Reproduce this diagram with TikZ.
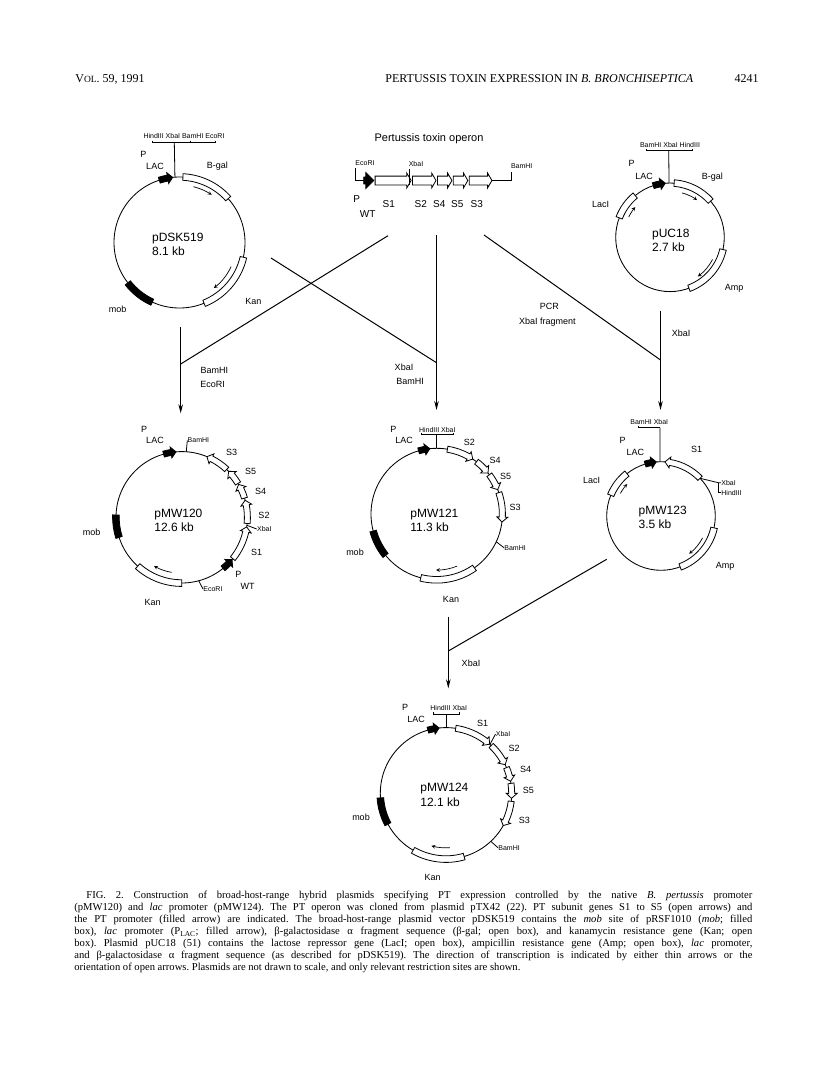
\documentclass[tikz,border=0pt]{standalone}
\usepackage{fontspec}
\setmainfont{Liberation Serif}
\newfontfamily\labelfont{Liberation Sans}
\usetikzlibrary{calc,chains,arrows,arrows.meta,shapes.arrows}

% box and arrows laid on the ring of the current plasmid (radius \plasr)
\newcommand\genebox[3][]{\draw[gene,#1] (#2:\plasr-3.2) arc[start angle=#2,end angle=#3,radius=\plasr-3.2]
  -- (#3:\plasr+3.4) arc[start angle=#3,end angle=#2,radius=\plasr+3.4] -- cycle;}
\newcommand\genearrow[3][]{\pgfmathsetmacro\neck{#3-(5/\plasr*57.3)*sign(#3-#2)}%
  \draw[gene,#1] (#2:\plasr+3) arc[start angle=#2,end angle=\neck,radius=\plasr+3]
  -- (\neck:\plasr+5.5) -- (#3:\plasr) -- (\neck:\plasr-5.5) -- (\neck:\plasr-3)
  arc[start angle=\neck,end angle=#2,radius=\plasr-3] -- cycle;}
\newcommand\flowarrow[3]{\draw[flow] (#1:#3) arc[start angle=#1,end angle=#2,radius=#3];}

\begin{document}
\begin{tikzpicture}[x=1pt,y=1pt,>=stealth,line width=.8pt,
    plasmid/.style={circle,draw,inner sep=0pt,outer sep=0pt,line width=.85pt},
    gene/.style={draw,fill=white,line width=.8pt},
    mobbox/.style={fill=black},
    prom/.style={fill=black},
    flow/.style={->,line width=.7pt},
    stepline/.style={line width=1pt},
    stepdown/.style={stepline,-{Stealth[length=9pt,width=4.5pt]}},
    lab/.style={inner sep=0pt,font=\labelfont\fontsize{9}{10}\selectfont},
    oplab/.style={inner sep=0pt,font=\labelfont\fontsize{10}{11}\selectfont},
    site/.style={inner sep=0pt,font=\labelfont\fontsize{7}{8}\selectfont},
    ringname/.style={inner sep=0pt,anchor=west,align=left,font=\labelfont\fontsize{12}{14.4}\selectfont},
    opgene/.style={single arrow,draw,fill=white,on chain,inner xsep=0pt,inner ysep=4pt,outer sep=0pt,
      single arrow head extend=3pt,single arrow tip angle=120,line width=.8pt},
    pagehead/.style={inner sep=0pt,font=\fontsize{12}{13}\selectfont},
    start chain=going right,node distance=1.4pt]
    \useasboundingbox (0,0) rectangle (816,-1079);

    % page head
    \node[pagehead,anchor=west] (vol) at (75,-79) {V{\fontsize{9.5}{10}\selectfont OL}. 59, 1991};
    \node[pagehead,anchor=west] (title) at (385,-79) {PERTUSSIS TOXIN EXPRESSION IN \textit{B. BRONCHISEPTICA}};
    \node[pagehead,anchor=east] (pageno) at (759,-79) {4241};

    % pDSK519
    \node[plasmid,minimum size=131pt] (pDSK) at (179.5,-242.5) {};
    \begin{scope}[shift={(pDSK.center)}]
      \def\plasr{65.5}
      \genearrow[prom]{108}{96}
      \genebox{87}{42}
      \genebox{-13}{-68}
      \genebox[mobbox]{218}{245.5}
      \flowarrow{76}{56}{57.5}
      \flowarrow{-25}{-53}{57}
    \end{scope}
    \node[site] (dskSites) at (184,-136) {HindIII XbaI BamHI EcoRI};
    \draw (152,-140.5) -- (152,-142.7) -- (215,-142.7) -- (215,-140.5);
    \draw (190,-140.5) -- (190,-142.7);
    \draw (pDSK.94.6) -- (174.3,-142.7);
    \node[lab] (dskP) at (143.3,-154.3) {P};
    \node[lab] (dskLac) at (155,-166.3) {LAC};
    \node[lab] (dskGal) at (217.3,-166.3) {B-gal};
    \node[lab] (dskKan) at (253.3,-301) {Kan};
    \node[lab] (dskMob) at (117.7,-309.7) {mob};
    \node[ringname] (dskName) at (151.7,-244.5) {pDSK519\\8.1 kb};

    % operon
    \node[font=\labelfont\fontsize{11}{12}\selectfont,inner sep=0pt] (opTitle) at (429,-138.3) {Pertussis toxin operon};
    \node[opgene,fill=black,minimum height=10pt,inner ysep=3pt,single arrow head extend=4.5pt,single arrow tip angle=90] (opP) at (367,-180.5) {};
    \node[opgene,minimum height=36pt] (opS1) {};
    \node[opgene,minimum height=23.5pt] (opS2) {};
    \node[opgene,minimum height=14.5pt] (opS4) {};
    \node[opgene,minimum height=14.5pt] (opS5) {};
    \node[opgene,minimum height=22.7pt] (opS3) {};
    \node[site] (opEco) at (365,-163.3) {EcoRI};
    \node[site] (opXba) at (416,-164) {XbaI};
    \node[site] (opBam) at (521.7,-166) {BamHI};
    \coordinate (opEcoEnd) at (355.3,-168.3);
    \coordinate (opBamEnd) at (511,-172.3);
    \draw (opP.tail) -| (opEcoEnd);
    \draw (opS3.tip) -| (opBamEnd);
    \draw (409,-169.3) -- (409,-185);
    \node[oplab] (opLabP) at (356.7,-199) {P};
    \node[oplab] (opLabWT) at (367.7,-214.3) {WT};
    \node[oplab] (opLabA) at (388.7,-204.3) {S1};
    \node[oplab] (opLabB) at (420.7,-204.3) {S2};
    \node[oplab] (opLabC) at (439.3,-204.3) {S4};
    \node[oplab] (opLabD) at (457.3,-204.3) {S5};
    \node[oplab] (opLabE) at (476.7,-204.3) {S3};

    % pUC18
    \node[plasmid,minimum size=108.6pt] (pUC) at (670,-237.3) {};
    \begin{scope}[shift={(pUC.center)}]
      \def\plasr{54.3}
      \genearrow[prom]{108}{95}
      \genebox{85.6}{41.7}
      \genebox{-13}{-69.6}
      \genebox{129.8}{159}
      \flowarrow{75}{54}{46}
      \flowarrow{-27.5}{-54.7}{48}
      \flowarrow{153.6}{138.9}{46}
    \end{scope}
    \node[site] (ucSites) at (670,-145.3) {BamHI XbaI HindIII};
    \draw (646.7,-149) -- (646.7,-150.7) -- (692.3,-150.7) -- (692.3,-149);
    \draw (pUC.91.4) -- (668.7,-150.7);
    \node[lab] (ucP) at (631.7,-163.3) {P};
    \node[lab] (ucLac) at (644,-176) {LAC};
    \node[lab] (ucGal) at (712.3,-177) {B-gal};
    \node[lab] (ucLacI) at (600.7,-204) {LacI};
    \node[lab] (ucAmp) at (734,-288.3) {Amp};
    \node[ringname] (ucName) at (651.7,-240.5) {pUC18\\2.7 kb};

    % pMW120
    \node[plasmid,minimum size=131.4pt] (pMWa) at (181.7,-517.3) {};
    \begin{scope}[shift={(pMWa.center)}]
      \def\plasr{65.7}
      \genearrow[prom]{106}{95}
      \genearrow[prom]{-51}{-40}
      \genearrow{-39}{-8.4}
      \genearrow{-5.4}{15}
      \genearrow{17}{30}
      \genearrow{31}{44.4}
      \genebox{228}{270}
      \genearrow{46.8}{67.4}
      \genebox[mobbox]{178}{197.8}
      \flowarrow{259.7}{240.4}{56}
    \end{scope}
    \node[site,anchor=west] (mwaBam) at (187.3,-440.3) {BamHI};
    \node[site,anchor=west] (mwaXba) at (256.7,-529) {XbaI};
    \node[site,anchor=west] (mwaEco) at (203,-589) {EcoRI};
    \draw (pMWa.86.8) -- (mwaBam.west);
    \draw (pMWa.-7) -- (mwaXba.west);
    \draw (pMWa.-75) -- (mwaEco.west);
    \node[lab] (mwaP) at (144,-429.3) {P};
    \node[lab] (mwaLac) at (155,-440.7) {LAC};
    \node[lab] (mwaA) at (231.7,-452.3) {S3};
    \node[lab] (mwaB) at (250.7,-471) {S5};
    \node[lab] (mwaC) at (260.7,-491.7) {S4};
    \node[lab] (mwaD) at (264,-515) {S2};
    \node[lab] (mwaE) at (256.7,-552.7) {S1};
    \node[lab] (mwaPW) at (238.3,-574.3) {P};
    \node[lab] (mwaWT) at (247.7,-586.7) {WT};
    \node[lab] (mwaKan) at (152.7,-602) {Kan};
    \node[lab] (mwaMob) at (91.7,-532.7) {mob};
    \node[ringname] (mwaName) at (154,-520.3) {pMW120\\12.6 kb};

    % pMW121
    \node[plasmid,minimum size=131.4pt] (pMWb) at (436.7,-514) {};
    \begin{scope}[shift={(pMWb.center)}]
      \def\plasr{65.7}
      \genearrow[prom]{106}{96}
      \genearrow{80.6}{56.7}
      \genearrow{52.7}{38.7}
      \genearrow{36.7}{21.8}
      \genearrow{19}{-7}
      \genebox{-55}{-104}
      \genebox[mobbox]{195}{219}
      \flowarrow{-68.6}{-90.7}{56}
    \end{scope}
    \node[site] (mwbSites) at (437.3,-430) {HindIII XbaI};
    \draw (421.7,-432.7) -- (421.7,-434.3) -- (453.3,-434.3) -- (453.3,-432.7);
    \draw (pMWb.90) -- (436.7,-434.3);
    \node[site,anchor=west] (mwbBam) at (504,-547.7) {BamHI};
    \draw (pMWb.-25) -- (mwbBam.west);
    \node[lab] (mwbP) at (393.3,-429) {P};
    \node[lab] (mwbLac) at (404,-440.7) {LAC};
    \node[lab] (mwbA) at (469.3,-442.7) {S2};
    \node[lab] (mwbB) at (495,-460) {S4};
    \node[lab] (mwbC) at (505.7,-476.7) {S5};
    \node[lab] (mwbD) at (515,-507.3) {S3};
    \node[lab] (mwbKan) at (451,-599) {Kan};
    \node[lab] (mwbMob) at (355,-552.7) {mob};
    \node[ringname] (mwbName) at (410,-520.3) {pMW121\\11.3 kb};

    % pMW123
    \node[plasmid,minimum size=108.6pt] (pMWc) at (661,-516) {};
    \begin{scope}[shift={(pMWc.center)}]
      \def\plasr{54.3}
      \genearrow[prom]{107}{95}
      \genearrow{44}{85.8}
      \genebox{-12.6}{-69.4}
      \genebox{128.8}{157.6}
      \flowarrow{-27.8}{-53.3}{47}
      \flowarrow{151}{136.5}{46.5}
    \end{scope}
    \node[site] (mwcSites) at (649.3,-422) {BamHI XbaI};
    \draw (638.3,-425.7) -- (638.3,-427.7) -- (660,-427.7);
    \draw (pMWc.91) -- (660,-427.7);
    \node[site,anchor=west] (mwcXba) at (721,-482.7) {XbaI};
    \node[site,anchor=west] (mwcHind) at (721,-492.7) {HindIII};
    \draw (pMWc.44) -- (718.3,-482.7) -- (mwcXba.west);
    \draw (718.3,-482.7) |- (mwcHind.west);
    \node[lab] (mwcP) at (622.7,-440.7) {P};
    \node[lab] (mwcLac) at (635.3,-452.7) {LAC};
    \node[lab] (mwcLacI) at (591.7,-480.7) {LacI};
    \node[lab] (mwcS) at (696.7,-449) {S1};
    \node[lab] (mwcAmp) at (725,-566) {Amp};
    \node[ringname] (mwcName) at (638.3,-517.5) {pMW123\\3.5 kb};

    % pMW124
    \node[plasmid,minimum size=131.4pt] (pMWd) at (446,-793.3) {};
    \begin{scope}[shift={(pMWd.center)}]
      \def\plasr{65.7}
      \genearrow[prom]{106}{96}
      \genearrow{81.5}{48.4}
      \genearrow{46.6}{25.8}
      \genearrow{23}{10.6}
      \genearrow{8.7}{-4.4}
      \genearrow{-7}{-29.4}
      \genebox{-74}{-120}
      \genebox[mobbox]{184}{208}
      \flowarrow{-85.8}{-105.5}{54.5}
    \end{scope}
    \node[site] (mwdSites) at (448.7,-708) {HindIII XbaI};
    \draw (433.3,-712.3) -- (433.3,-714) -- (459.3,-714) -- (459.3,-712.3);
    \draw (pMWd.90) -- (446,-714);
    \node[site,anchor=west] (mwdXba) at (495.5,-734) {XbaI};
    \node[site,anchor=west] (mwdBam) at (498,-847.7) {BamHI};
    \draw (pMWd.48) -- (mwdXba.west);
    \draw (pMWd.-47) -- (mwdBam.west);
    \node[lab] (mwdP) at (405,-707.7) {P};
    \node[lab] (mwdLac) at (416,-719) {LAC};
    \node[lab] (mwdA) at (482.7,-723) {S1};
    \node[lab] (mwdB) at (514,-748.3) {S2};
    \node[lab] (mwdC) at (525.7,-769.7) {S4};
    \node[lab] (mwdD) at (528.3,-790.7) {S5};
    \node[lab] (mwdE) at (524.3,-820) {S3};
    \node[lab] (mwdKan) at (432.7,-877.3) {Kan};
    \node[lab] (mwdMob) at (361,-817.3) {mob};
    \node[ringname] (mwdName) at (420,-795) {pMW124\\12.1 kb};

    % cloning steps
    \coordinate (stepLtop) at (180.7,-327.3);
    \coordinate (stepLend) at (180.7,-413.3);
    \coordinate (stepLjoin) at (180.7,-364);
    \coordinate (stepLfrom) at (388,-235.7);
    \coordinate (stepMtop) at (436.5,-235);
    \coordinate (stepMend) at (436.5,-410);
    \coordinate (stepMjoin) at (436.5,-362.7);
    \coordinate (stepMfrom) at (271,-258);
    \coordinate (stepRtop) at (660.5,-310.7);
    \coordinate (stepRend) at (660.5,-410);
    \coordinate (stepRjoin) at (660.5,-360);
    \coordinate (stepRfrom) at (484,-235);
    \coordinate (stepBtop) at (448.3,-616.7);
    \coordinate (stepBend) at (448.3,-688.3);
    \coordinate (stepBjoin) at (448.3,-651);
    \coordinate (stepBfrom) at (606.7,-559.3);
    \draw[stepdown] (stepLtop) -- (stepLend);
    \draw[stepline] (stepLfrom) -- (stepLjoin);
    \draw[stepdown] (stepMtop) -- (stepMend);
    \draw[stepline] (stepMfrom) -- (stepMjoin);
    \draw[stepdown] (stepRtop) -- (stepRend);
    \draw[stepline] (stepRfrom) -- (stepRjoin);
    \draw[stepdown] (stepBtop) -- (stepBend);
    \draw[stepline] (stepBfrom) -- (stepBjoin);
    \node[lab] (stepLa) at (214.3,-370) {BamHI};
    \node[lab] (stepLb) at (212.7,-384.3) {EcoRI};
    \node[lab] (stepMa) at (404,-367.3) {XbaI};
    \node[lab] (stepMb) at (410,-381.7) {BamHI};
    \node[lab] (stepPa) at (549.3,-306.7) {PCR};
    \node[lab] (stepPb) at (547.3,-321.7) {XbaI fragment};
    \node[lab] (stepR) at (681,-333.3) {XbaI};
    \node[lab] (stepB) at (471,-663.3) {XbaI};

    % caption
    \node[inner sep=0pt,anchor=north west,text width=678pt,align=justify,
      font=\frenchspacing\fontsize{10.6}{12}\selectfont] (caption) at (74,-891) {%
      \hspace*{12pt}FIG. 2. Construction of broad-host-range hybrid plasmids specifying PT expression controlled by the native \textit{B. pertussis} promoter\linebreak
      (pMW120) and \textit{lac} promoter (pMW124). The PT operon was cloned from plasmid pTX42 (22). PT subunit genes S1 to S5 (open arrows) and\linebreak
      the PT promoter (filled arrow) are indicated. The broad-host-range plasmid vector pDSK519 contains the \textit{mob} site of pRSF1010 (\textit{mob}; filled\linebreak
      box), \textit{lac} promoter (P\textsubscript{LAC}; filled arrow), β-galactosidase α fragment sequence (β-gal; open box), and kanamycin resistance gene (Kan; open\linebreak
      box). Plasmid pUC18 (51) contains the lactose repressor gene (LacI; open box), ampicillin resistance gene (Amp; open box), \textit{lac} promoter,\linebreak
      and β-galactosidase α fragment sequence (as described for pDSK519). The direction of transcription is indicated by either thin arrows or the\linebreak
      orientation of open arrows. Plasmids are not drawn to scale, and only relevant restriction sites are shown.};
\end{tikzpicture}
\end{document}
